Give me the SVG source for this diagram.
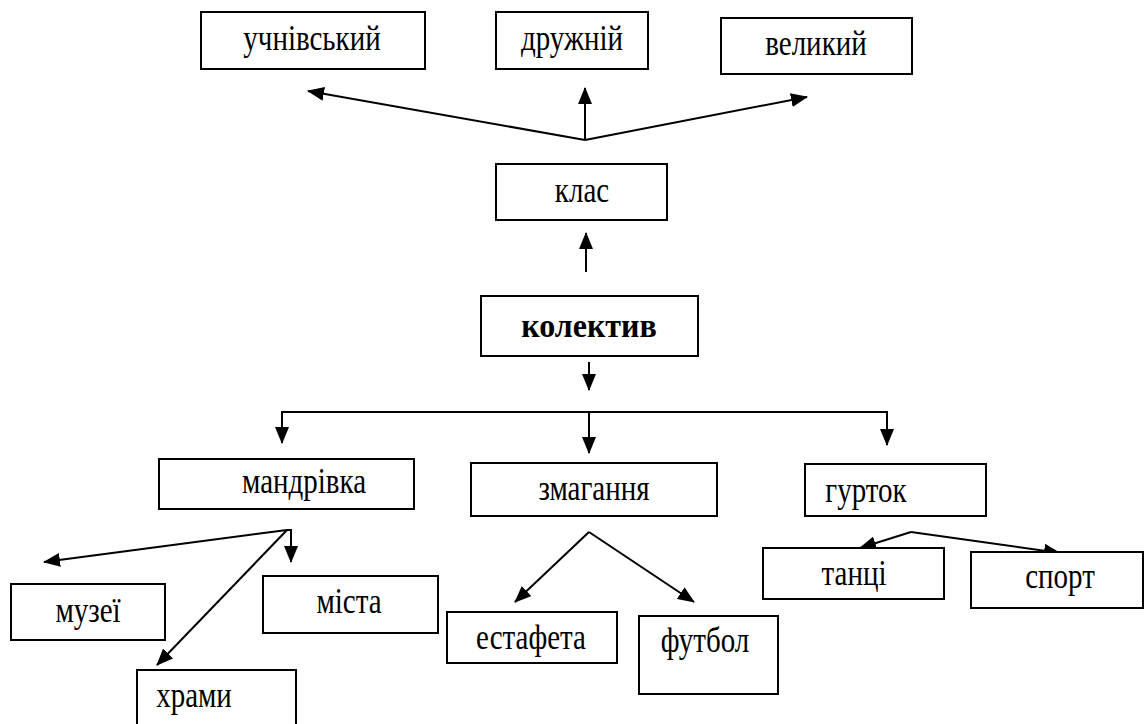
<svg xmlns="http://www.w3.org/2000/svg" width="1144" height="724" viewBox="0 0 1144 724">
<style>
.box{fill:#fff;stroke:#000;stroke-width:2}
.t{font-family:"Liberation Serif","Times New Roman","DejaVu Serif",serif;font-size:29px;fill:#000;text-anchor:middle}
.b{font-weight:bold;font-size:32px}
.c{fill:none;stroke:#000;stroke-width:2}
</style>
<defs>
<marker id="ah" markerUnits="userSpaceOnUse" markerWidth="17" markerHeight="14" refX="16" refY="7" orient="auto">
<path d="M0,0 L17,7 L0,14 Z" fill="#000"/>
</marker>
</defs>
<rect width="1144" height="724" fill="#fff"/>
<g id="connectors">
<line class="c" x1="585" y1="140" x2="308" y2="91" marker-end="url(#ah)"/>
<line class="c" x1="585" y1="140" x2="585" y2="88" marker-end="url(#ah)"/>
<line class="c" x1="585" y1="140" x2="807" y2="97" marker-end="url(#ah)"/>
<line class="c" x1="586" y1="272" x2="586" y2="233" marker-end="url(#ah)"/>
<line class="c" x1="589" y1="362" x2="589" y2="390" marker-end="url(#ah)"/>
<line class="c" x1="282" y1="412" x2="888" y2="412"/>
<line class="c" x1="282" y1="411" x2="282" y2="443" marker-end="url(#ah)"/>
<line class="c" x1="589" y1="411" x2="589" y2="453" marker-end="url(#ah)"/>
<line class="c" x1="887" y1="411" x2="887" y2="445" marker-end="url(#ah)"/>
<line class="c" x1="287" y1="530" x2="44" y2="562" marker-end="url(#ah)"/>
<line class="c" x1="287" y1="530" x2="157" y2="665" marker-end="url(#ah)"/>
<polyline class="c" points="287,530 291,530 291,562" marker-end="url(#ah)"/>
<line class="c" x1="589" y1="532" x2="515" y2="602" marker-end="url(#ah)"/>
<line class="c" x1="589" y1="532" x2="694" y2="602" marker-end="url(#ah)"/>
<line class="c" x1="911" y1="532" x2="860" y2="548" marker-end="url(#ah)"/>
<line class="c" x1="911" y1="532" x2="1060" y2="553" marker-end="url(#ah)"/>
</g>
<g id="n-uchnivskyi"><rect class="box" x="201" y="12" width="224" height="57"/><text class="t" transform="translate(312,50) scale(1,1.2)">учнівський</text></g>
<g id="n-druzhnii"><rect class="box" x="496" y="12" width="152" height="57"/><text class="t" transform="translate(572,50) scale(1,1.2)">дружній</text></g>
<g id="n-velykyi"><rect class="box" x="721" y="18" width="191" height="56"/><text class="t" transform="translate(816,55) scale(1,1.2)">великий</text></g>
<g id="n-klas"><rect class="box" x="496" y="164" width="171" height="56"/><text class="t" transform="translate(582,202) scale(1,1.2)">клас</text></g>
<g id="n-kolektyv"><rect class="box" x="481" y="296" width="217" height="60"/><text class="t b" transform="translate(589,337) scale(1,1.08)">колектив</text></g>
<g id="n-mandrivka"><rect class="box" x="159" y="459" width="255" height="50"/><text class="t" transform="translate(304,493) scale(1,1.2)">мандрівка</text></g>
<g id="n-zmahannia"><rect class="box" x="471" y="463" width="246" height="53"/><text class="t" transform="translate(594,500) scale(1,1.2)">змагання</text></g>
<g id="n-hurtok"><rect class="box" x="805" y="464" width="181" height="52"/><text class="t" transform="translate(866,502) scale(1,1.2)">гурток</text></g>
<g id="n-muzei"><rect class="box" x="11" y="584" width="154" height="56"/><text class="t" transform="translate(88,622) scale(1,1.2)">музеї</text></g>
<g id="n-mista"><rect class="box" x="263" y="576" width="175" height="57"/><text class="t" transform="translate(349,613) scale(1,1.2)">міста</text></g>
<g id="n-khramy"><rect class="box" x="137" y="670" width="159" height="60"/><text class="t" transform="translate(194,707) scale(1,1.2)">храми</text></g>
<g id="n-estafeta"><rect class="box" x="447" y="612" width="170" height="51"/><text class="t" transform="translate(531,649) scale(1,1.2)">естафета</text></g>
<g id="n-futbol"><rect class="box" x="639" y="616" width="139" height="78"/><text class="t" transform="translate(705,652) scale(1,1.2)">футбол</text></g>
<g id="n-tantsi"><rect class="box" x="763" y="548" width="181" height="51"/><text class="t" transform="translate(854,585) scale(1,1.2)">танці</text></g>
<g id="n-sport"><rect class="box" x="971" y="552" width="172" height="56"/><text class="t" transform="translate(1060,588) scale(1,1.2)">спорт</text></g>
</svg>
